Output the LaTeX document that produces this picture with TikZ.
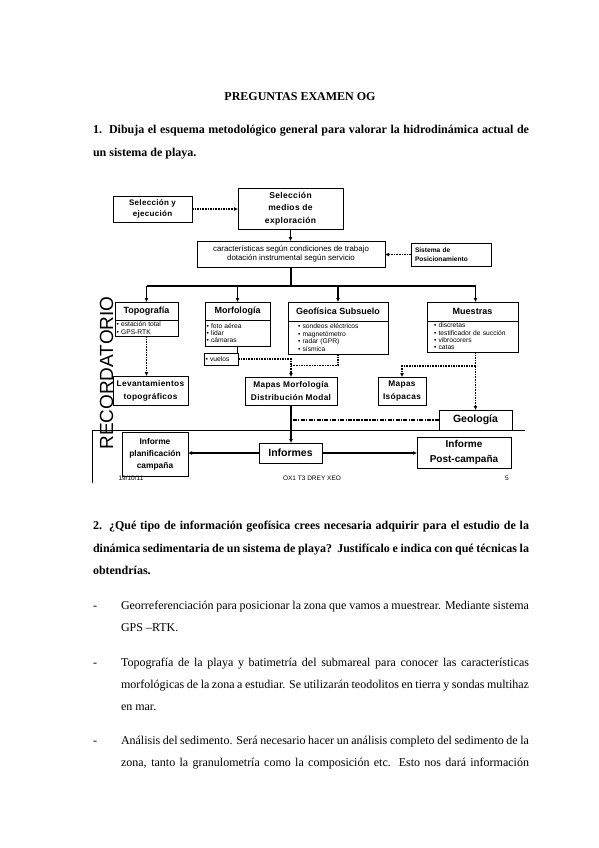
\documentclass[tikz,border=0pt]{standalone}
\usepackage{fontspec}
\setmainfont{Liberation Serif}
\newfontfamily\dfont{Liberation Sans}
\newfontfamily\dfontw{Liberation Sans}[LetterSpace=4]
\usetikzlibrary{arrows.meta}
\begin{document}
\begin{tikzpicture}[x=1pt,y=-1pt,
  every node/.style={inner sep=0pt, outer sep=0pt},
  body/.style={anchor=base west, font=\fontsize{12}{14}\selectfont},
  boldbody/.style={anchor=base west, font=\bfseries\fontsize{12}{14}\selectfont},
  box/.style={draw, line width=0.8pt, align=center},
  hdr/.style={box, font=\dfont\bfseries\fontsize{9}{10}\selectfont},
  det/.style={box, align=left, font=\dfont\fontsize{6.7}{7.4}\selectfont},
  bx/.style={box, font=\dfontw\bfseries\fontsize{8.5}{12.5}\selectfont},
  tip/.style={-{Latex[length=4pt,width=4pt]}},
  thickline/.style={line width=1.5pt},
  thickarrow/.style={line width=1.5pt, tip},
  dotline/.style={line width=1.1pt, dash pattern=on 1.6pt off 1pt},
  dotarrow/.style={dotline, tip},
  dashdotline/.style={line width=1.1pt, dash pattern=on 4pt off 1.3pt on 1.3pt off 1.3pt},
  thinline/.style={line width=0.7pt},
  foot/.style={font=\dfont\fontsize{6.5}{7}\selectfont}
]
\useasboundingbox (0,0) rectangle (599,848);
\fill[white] (0,0) rectangle (599,848);

% ---------- title and question 1 ----------
\node[anchor=base, font=\bfseries\fontsize{12}{14}\selectfont] (title) at (300,101) {PREGUNTAS EXAMEN OG};
\node[boldbody] (q1n) at (93,134) {1.};
\node[boldbody] (q1a) at (109,134) {\makebox[420pt][s]{Dibuja el esquema metodológico general para valorar la hidrodinámica actual de}};
\node[boldbody] (q1b) at (93,156) {un sistema de playa.};

% ---------- diagram ----------
\node[bx, minimum width=79, minimum height=26, font=\dfontw\bfseries\fontsize{8}{10.5}\selectfont] (sye) at (152.5,209) {Selección y\\ejecución};
\node[bx, minimum width=105, minimum height=41] (sel) at (290.5,208.5) {Selección\\medios de\\exploración};
\node[box, minimum width=188, minimum height=26, font=\dfont\fontsize{7.9}{9}\selectfont] (car) at (291,254) {características según condiciones de trabajo\\dotación instrumental según servicio};
\node[box, align=left, text width=72, minimum width=80, minimum height=23, font=\dfont\bfseries\fontsize{6.6}{9}\selectfont] (sis) at (451,254.5) {Sistema de\\Posicionamiento};

\node[hdr, minimum width=63, minimum height=18] (topoh) at (146.5,311) {Topografía};
\node[det, text width=60, minimum width=63, minimum height=16] (topod) at (146.5,328) {• estación total\\• GPS-RTK};
\node[hdr, minimum width=65, minimum height=18] (morfh) at (237.5,311) {Morfología};
\node[det, text width=62, minimum width=65, minimum height=26] (morfd) at (237.5,333) {• foto aérea\\• lidar\\• cámaras};
\node[det, text width=31, minimum width=34, minimum height=12] (vuelos) at (221,359) {• vuelos};
\node[hdr, minimum width=100, minimum height=19] (geofh) at (338,311.5) {Geofísica Subsuelo};
\node[det, text width=80, minimum width=100, minimum height=33] (geofd) at (338,337.5) {• sondeos eléctricos\\• magnetómetro\\• radar (GPR)\\• sísmica};
\node[hdr, minimum width=91, minimum height=19] (muesh) at (472.5,311.5) {Muestras};
\node[det, text width=77, minimum width=91, minimum height=31] (muesd) at (472.5,336.5) {• discretas\\• testificador de succión\\• vibrocorers\\• catas};

\node[bx, minimum width=75, minimum height=29, font=\dfontw\bfseries\fontsize{8.3}{13}\selectfont] (lev) at (150.5,390.5) {Levantamientos\\topográficos};
\node[bx, minimum width=92, minimum height=28, font=\dfontw\bfseries\fontsize{8.3}{13}\selectfont] (mapas) at (291,391) {Mapas Morfología\\Distribución Modal};
\node[bx, minimum width=48, minimum height=28, font=\dfontw\bfseries\fontsize{8.3}{13}\selectfont] (isop) at (402,391) {Mapas\\Isópacas};
\node[bx, minimum width=73, minimum height=20, font=\dfont\bfseries\fontsize{10.5}{12}\selectfont] (geo) at (475.5,420) {Geología};
\node[bx, minimum width=63, minimum height=20, font=\dfont\bfseries\fontsize{10.5}{12}\selectfont] (informes) at (290.5,453) {Informes};
\node[bx, minimum width=66, minimum height=44, font=\dfont\bfseries\fontsize{8.4}{12}\selectfont] (plan) at (155,454) {Informe\\planificación\\campaña};
\node[bx, minimum width=94, minimum height=31, font=\dfont\bfseries\fontsize{10}{15}\selectfont] (post) at (464,452.5) {Informe\\Post-campaña};

\node[rotate=90, font=\dfont\fontsize{19}{19}\selectfont] (rec) at (106.5,373) {RECORDATORIO};

\node[foot] (f1) at (131,478) {19/10/11};
\node[foot] (f2) at (312,478) {OX1 T3 DREY XEO};
\node[foot] (f3) at (507,478) {5};

% slide frame
\coordinate (frL) at (92,430);
\coordinate (frR) at (525,430);
\coordinate (frB) at (92,483);
\draw[thinline] (frR) -- (frL) -- (frB);

% connectors
\draw[dotarrow] (sye.east) -- (sye.east -| sel.west);
\draw[thickarrow] (sel.south) -- (sel.south |- car.north);
\draw[dotarrow] (sis.west) -- (sis.west -| car.east);
\coordinate (busL) at (146.5,286);
\coordinate (busR) at (475.5,286);
\draw[thickline] (car.south) -- (car.south |- busL);
\draw[thickline] (busL) -- (busR);
\draw[thickarrow] (busL) -- (topoh.north);
\draw[thickarrow] (morfh.north |- busL) -- (morfh.north);
\draw[thickarrow] (geofh.north |- busL) -- (geofh.north);
\draw[thickarrow] (busR) -- (busR |- muesh.north);

\draw[dotarrow] (topod.south) -- (topod.south |- lev.north);
\draw[thinline] (morfd.south) -- (morfd.south |- vuelos.north);
\draw[dotarrow] (vuelos.east) -| (mapas.north);
\coordinate (gj) at (291,365.5);
\draw[dotline] (geofd.south) |- (gj);
\coordinate (mj) at (475.5,366);
\draw[dotline] (geo.north |- muesd.south) -- (mj);
\draw[dotarrow] (mj) -- (geo.north);
\draw[dotarrow] (mj) -| (isop.north);

\draw[thickarrow] (mapas.south) -- (mapas.south |- informes.north);
\draw[dashdotline] (geo.west) -- ([xshift=1.5pt]geo.west -| mapas.south);
\draw[thickarrow] (informes.west) -- (informes.west -| plan.east);
\draw[thickarrow] (informes.east) -- (informes.east -| post.west);

% ---------- question 2 ----------
\node[boldbody] (q2n) at (93,529) {2.};
\node[boldbody] (q2a) at (109,529) {\makebox[420pt][s]{¿Qué tipo de información geofísica crees necesaria adquirir para el estudio de la}};
\node[boldbody] (q2b) at (93,552) {\makebox[436pt][s]{dinámica sedimentaria de un sistema de playa?\ \ Justifícalo e indica con qué técnicas la}};
\node[boldbody] (q2c) at (93,574) {obtendrías.};

\node[body] (d1) at (93,609) {-};
\node[body] (b1a) at (121,609) {\makebox[408pt][s]{Georreferenciación para posicionar la zona que vamos a muestrear. Mediante sistema}};
\node[body] (b1b) at (121,631) {GPS –RTK.};
\node[body] (d2) at (93,666) {-};
\node[body] (b2a) at (121,666) {\makebox[408pt][s]{Topografía de la playa y batimetría del submareal para conocer las características}};
\node[body] (b2b) at (121,688) {\makebox[408pt][s]{morfológicas de la zona a estudiar. Se utilizarán teodolitos en tierra y sondas multihaz}};
\node[body] (b2c) at (121,710) {en mar.};
\node[body] (d3) at (93,744) {-};
\node[body] (b3a) at (121,744) {\makebox[408pt][s]{Análisis del sedimento. Será necesario hacer un análisis completo del sedimento de la}};
\node[body] (b3b) at (121,766) {\makebox[408pt][s]{zona, tanto la granulometría como la composición etc. Esto nos dará información}};
\end{tikzpicture}
\end{document}
